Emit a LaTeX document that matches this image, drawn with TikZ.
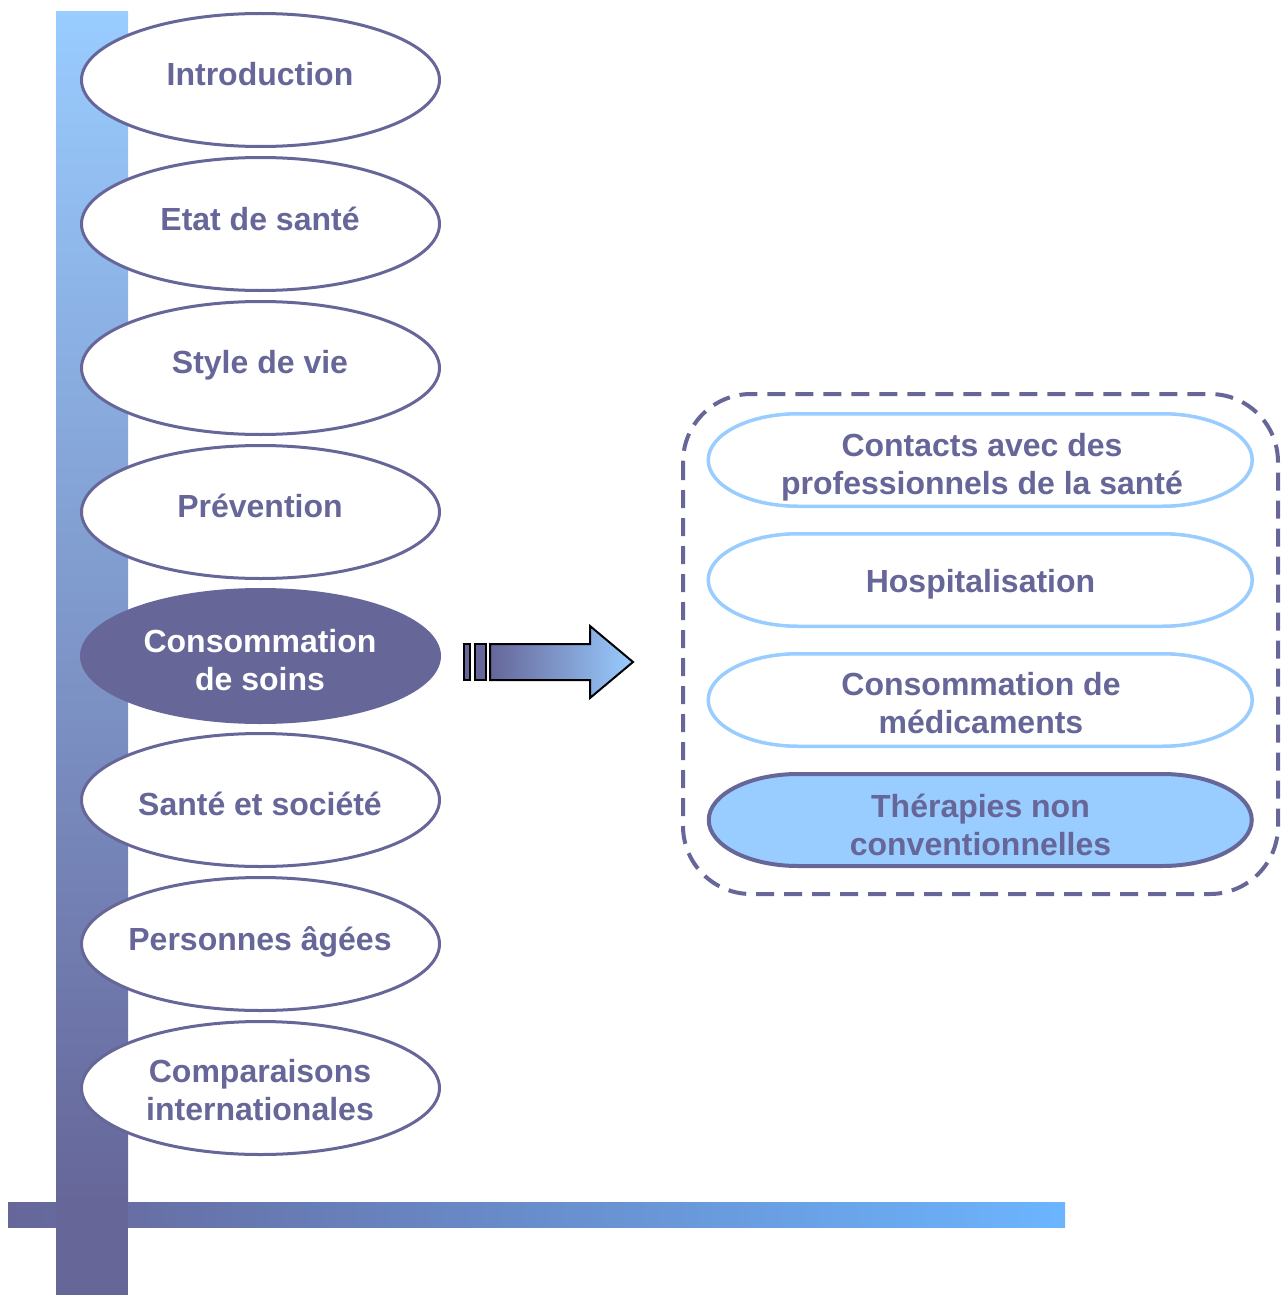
\documentclass[tikz,border=0pt]{standalone}
\usepackage{fontspec}
\setmainfont{Liberation Sans}
\usetikzlibrary{shapes.geometric}
\definecolor{navy}{HTML}{666699}
\definecolor{sky}{HTML}{99CCFF}
\definecolor{skyb}{HTML}{6BB5FF}
\begin{document}
\begin{tikzpicture}[x=1pt,y=-1pt,
  lbl/.style={font=\fontsize{32}{38}\selectfont\bfseries, text=navy, align=center, inner sep=0pt},
  topic/.style={ellipse, draw=navy, line width=3pt, fill=white, minimum width=358pt, minimum height=133pt, inner sep=0pt},
  current/.style={topic, fill=navy},
  subbox/.style={draw=sky, line width=3.5pt, fill=white},
  subcur/.style={draw=navy, line width=4pt, fill=sky},
  groupbox/.style={draw=navy, line width=4pt, dash pattern=on 18pt off 10pt, rounded corners=68pt},
  arrowpart/.style={draw=black, line width=2pt}
]
\useasboundingbox (0,0) rectangle (1283,1295);
\fill[white] (0,0) rectangle (1283,1295);

% axis bars
\shade[left color=navy, right color=skyb] (8,1202) rectangle (1065,1227);
\shade[top color=sky, bottom color=navy] (56,12) rectangle (128,1202);
\fill[navy] (56,1201) rectangle (128,1295);

% left topics
\node[topic] (e1) at (260.5,80) {};
\node[topic] (e2) at (260.5,224) {};
\node[topic] (e3) at (260.5,368) {};
\node[topic] (e4) at (260.5,512) {};
\node[current] (e5) at (260.5,656) {};
\node[topic] (e6) at (260.5,800) {};
\node[topic] (e7) at (260.5,944) {};
\node[topic] (e8) at (260.5,1088) {};

\node[lbl] (t1) at (260,74) {Introduction};
\node[lbl] (t2) at (260,219) {Etat de santé};
\node[lbl] (t3) at (260,365.5) {Style de vie};
\node[lbl] (t4) at (260,506) {Prévention};
\node[lbl, text=white] (t5) at (260,660) {Consommation\\de soins};
\node[lbl] (t6) at (260,804) {Santé et société};
\node[lbl] (t7) at (260,941.5) {Personnes âgées};
\node[lbl] (t8) at (260,1090) {Comparaisons\\internationales};

% arrow
\filldraw[arrowpart, fill=navy] (464,644) rectangle (469.5,680);
\filldraw[arrowpart, fill=navy] (474.5,644) rectangle (486,680);
\shade[arrowpart, left color=navy, right color=sky]
  (490,644) -- (590,644) -- (590,626) -- (633,662) -- (590,698) -- (590,680) -- (490,680) -- cycle;

% group
\draw[groupbox] (683,394) rectangle (1278,894);

\draw[subbox] (798.25,413.75) -- (1162.25,413.75) arc[start angle=-90, end angle=90, x radius=90, y radius=46.25]
  -- (798.25,506.25) arc[start angle=90, end angle=270, x radius=90, y radius=46.25] -- cycle;
\draw[subbox] (798.25,533.75) -- (1162.25,533.75) arc[start angle=-90, end angle=90, x radius=90, y radius=46.25]
  -- (798.25,626.25) arc[start angle=90, end angle=270, x radius=90, y radius=46.25] -- cycle;
\draw[subbox] (798.25,653.75) -- (1162.25,653.75) arc[start angle=-90, end angle=90, x radius=90, y radius=46.25]
  -- (798.25,746.25) arc[start angle=90, end angle=270, x radius=90, y radius=46.25] -- cycle;
\draw[subcur] (798.25,774) -- (1162.25,774) arc[start angle=-90, end angle=90, x radius=89.5, y radius=46]
  -- (798.25,866) arc[start angle=90, end angle=270, x radius=89.5, y radius=46] -- cycle;

\node[lbl] (s1) at (982,467) {Contacts avec des\\professionnels de la santé};
\node[lbl] (s2) at (980.5,584.5) {Hospitalisation};
\node[lbl] (s3) at (981,703.5) {Consommation de\\médicaments};
\node[lbl] (s4) at (980.5,824.5) {Thérapies non\\conventionnelles};
\end{tikzpicture}
\end{document}
